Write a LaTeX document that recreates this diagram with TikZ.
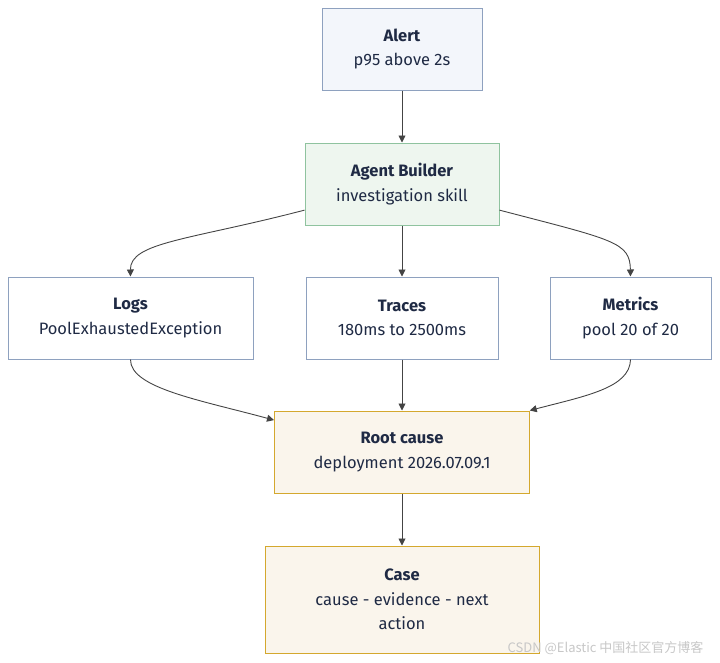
\documentclass[tikz,border=0pt]{standalone}
\usepackage{fontspec}
\setmainfont{Fira Sans}
\newfontfamily\cjk{Noto Sans CJK SC}
\usepackage{xcolor}
\usetikzlibrary{arrows.meta}

\definecolor{txtcol}{HTML}{1F2A44}
\definecolor{bluefill}{HTML}{F3F6FB}
\definecolor{blueline}{HTML}{8EA1BF}
\definecolor{greenfill}{HTML}{EEF6EF}
\definecolor{greenline}{HTML}{8FC39F}
\definecolor{goldfill}{HTML}{FAF5EC}
\definecolor{goldline}{HTML}{D4A82E}
\definecolor{edgecol}{HTML}{444444}

\begin{document}
\begin{tikzpicture}[x=1pt, y=-1pt, every text node part/.style={align=center},
  box/.style={draw=blueline, fill=white, line width=1pt, minimum height=82pt,
    inner sep=0pt, text=txtcol, font=\fontsize{16.5}{24.5}\selectfont},
  edge/.style={draw=edgecol, line width=0.9pt, -{Triangle[length=7pt,width=7pt]}}]

  \useasboundingbox (0,0) rectangle (720,662);

  % Top
  \node[box, fill=bluefill, minimum width=160pt] (alert) at (402,49) {\textbf{Alert}\\p95 above 2s};
  \node[box, draw=greenline, fill=greenfill, minimum width=194pt] (agent) at (402,184) {\textbf{Agent Builder}\\investigation skill};

  % Signals
  \node[box, minimum width=245pt] (logs) at (130.5,318) {\textbf{Logs}\\PoolExhaustedException};
  \node[box, minimum width=192pt] (traces) at (402,318) {\textbf{Traces}\\180ms to 2500ms};
  \node[box, minimum width=161pt] (metrics) at (630.5,318) {\textbf{Metrics}\\pool 20 of 20};

  % Result
  \node[box, draw=goldline, fill=goldfill, minimum width=255pt] (root) at (402,452) {\textbf{Root cause}\\deployment 2026.07.09.1};
  \node[box, draw=goldline, fill=goldfill, minimum width=274pt, minimum height=107pt] (case) at (402,599.5) {\textbf{Case}\\cause - evidence - next\\action};

  \draw[edge] (alert) -- (agent);
  \draw[edge] (agent) -- (traces);
  \draw[edge] (agent.195) .. controls (190,240) and (130,242) .. (logs.north);
  \draw[edge] (agent.345) .. controls (614,240) and (630,242) .. (metrics.north);
  \draw[edge] (traces) -- (root);
  \draw[edge] (logs.south) .. controls (130,388) and (200,400) .. (root.166);
  \draw[edge] (metrics.south) .. controls (630,388) and (585,396) .. (root.18);
  \draw[edge] (root) -- (case);

  \node[text=black!22, font=\cjk\fontsize{13}{15}\selectfont, anchor=east] (mark) at (707,648) {CSDN @Elastic 中国社区官方博客};

\end{tikzpicture}
\end{document}
